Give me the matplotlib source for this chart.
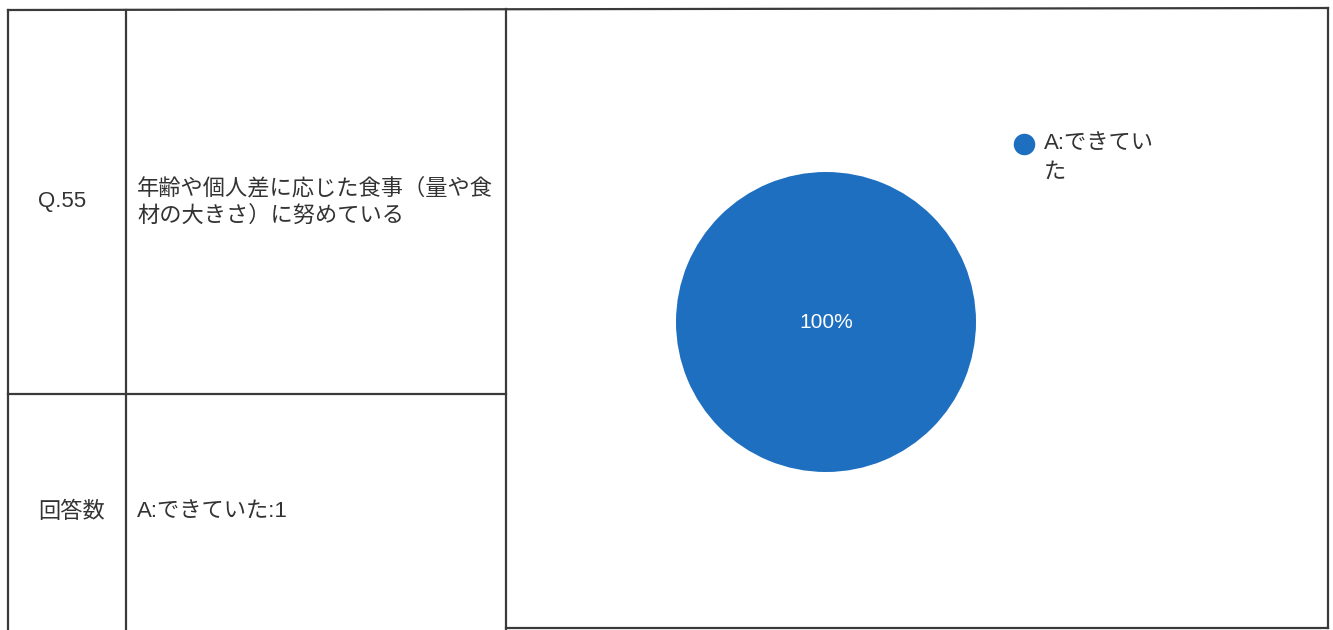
import matplotlib
matplotlib.use("Agg")
import matplotlib.pyplot as plt

plt.rcParams['font.family'] = ['Liberation Sans', 'Noto Sans CJK JP', 'DejaVu Sans']

question_no = "Q.55"
question_text = "年齢や個人差に応じた食事（量や食\n材の大きさ）に努めている"
count_label = "回答数"
categories = ["A:できていた"]
counts = [1]
colors = ["#1f6fc1"]

W, H = 1333, 630
fig = plt.figure(figsize=(W / 100, H / 100), dpi=100)

# background axes in pixel coordinates
bg = fig.add_axes([0, 0, 1, 1])
bg.set_xlim(0, W)
bg.set_ylim(H, 0)
bg.axis('off')

lc = '#3a3a3a'
lw = 1.6
# outer border
bg.plot([8, 1328], [10, 8], color=lc, lw=lw)
bg.plot([8, 8], [10, H], color=lc, lw=lw)
bg.plot([1328, 1328], [8, 628], color=lc, lw=lw)
bg.plot([506, 1328], [628, 628], color=lc, lw=lw)
# inner lines
bg.plot([126, 126], [10, H], color=lc, lw=lw)
bg.plot([506, 506], [9, H], color=lc, lw=lw)
bg.plot([8, 506], [394, 394], color=lc, lw=lw)

tc = '#333333'
fs = 16
bg.text(38, 201, question_no, fontsize=fs, color=tc, va='center', ha='left')
bg.text(137, 202, question_text, fontsize=fs, color=tc, va='center', ha='left',
        linespacing=1.4)
bg.text(38, 512, count_label, fontsize=fs, color=tc, va='center', ha='left')
answer_text = "".join(f"{c}:{n}" for c, n in zip(categories, counts))
bg.text(137, 512, answer_text, fontsize=fs, color=tc, va='center', ha='left')

# legend (manual)
for i, (c, col) in enumerate(zip(categories, colors)):
    bg.scatter([1024], [144 + i * 60], s=210, color=col, zorder=3)
    lab = c[:6] + "\n" + c[6:] if len(c) > 6 else c
    bg.text(1044, 158 + i * 60, lab, fontsize=fs, color=tc, va='center', ha='left',
            linespacing=1.5)

# pie
cx, cy, r = 826, 322, 150
pax = fig.add_axes([(cx - r) / W, (H - cy - r) / H, 2 * r / W, 2 * r / H])
wedges, texts, autotexts = pax.pie(
    counts, colors=colors, startangle=90, counterclock=False, radius=1,
    autopct=lambda p: f"{p:.0f}%", pctdistance=0.0,
    textprops=dict(color='white', fontsize=15))
pax.set_xlim(-1, 1)
pax.set_ylim(-1, 1)
pax.set_aspect('equal')
pax.axis('off')

fig.savefig("out.png", dpi=100, facecolor='white')
